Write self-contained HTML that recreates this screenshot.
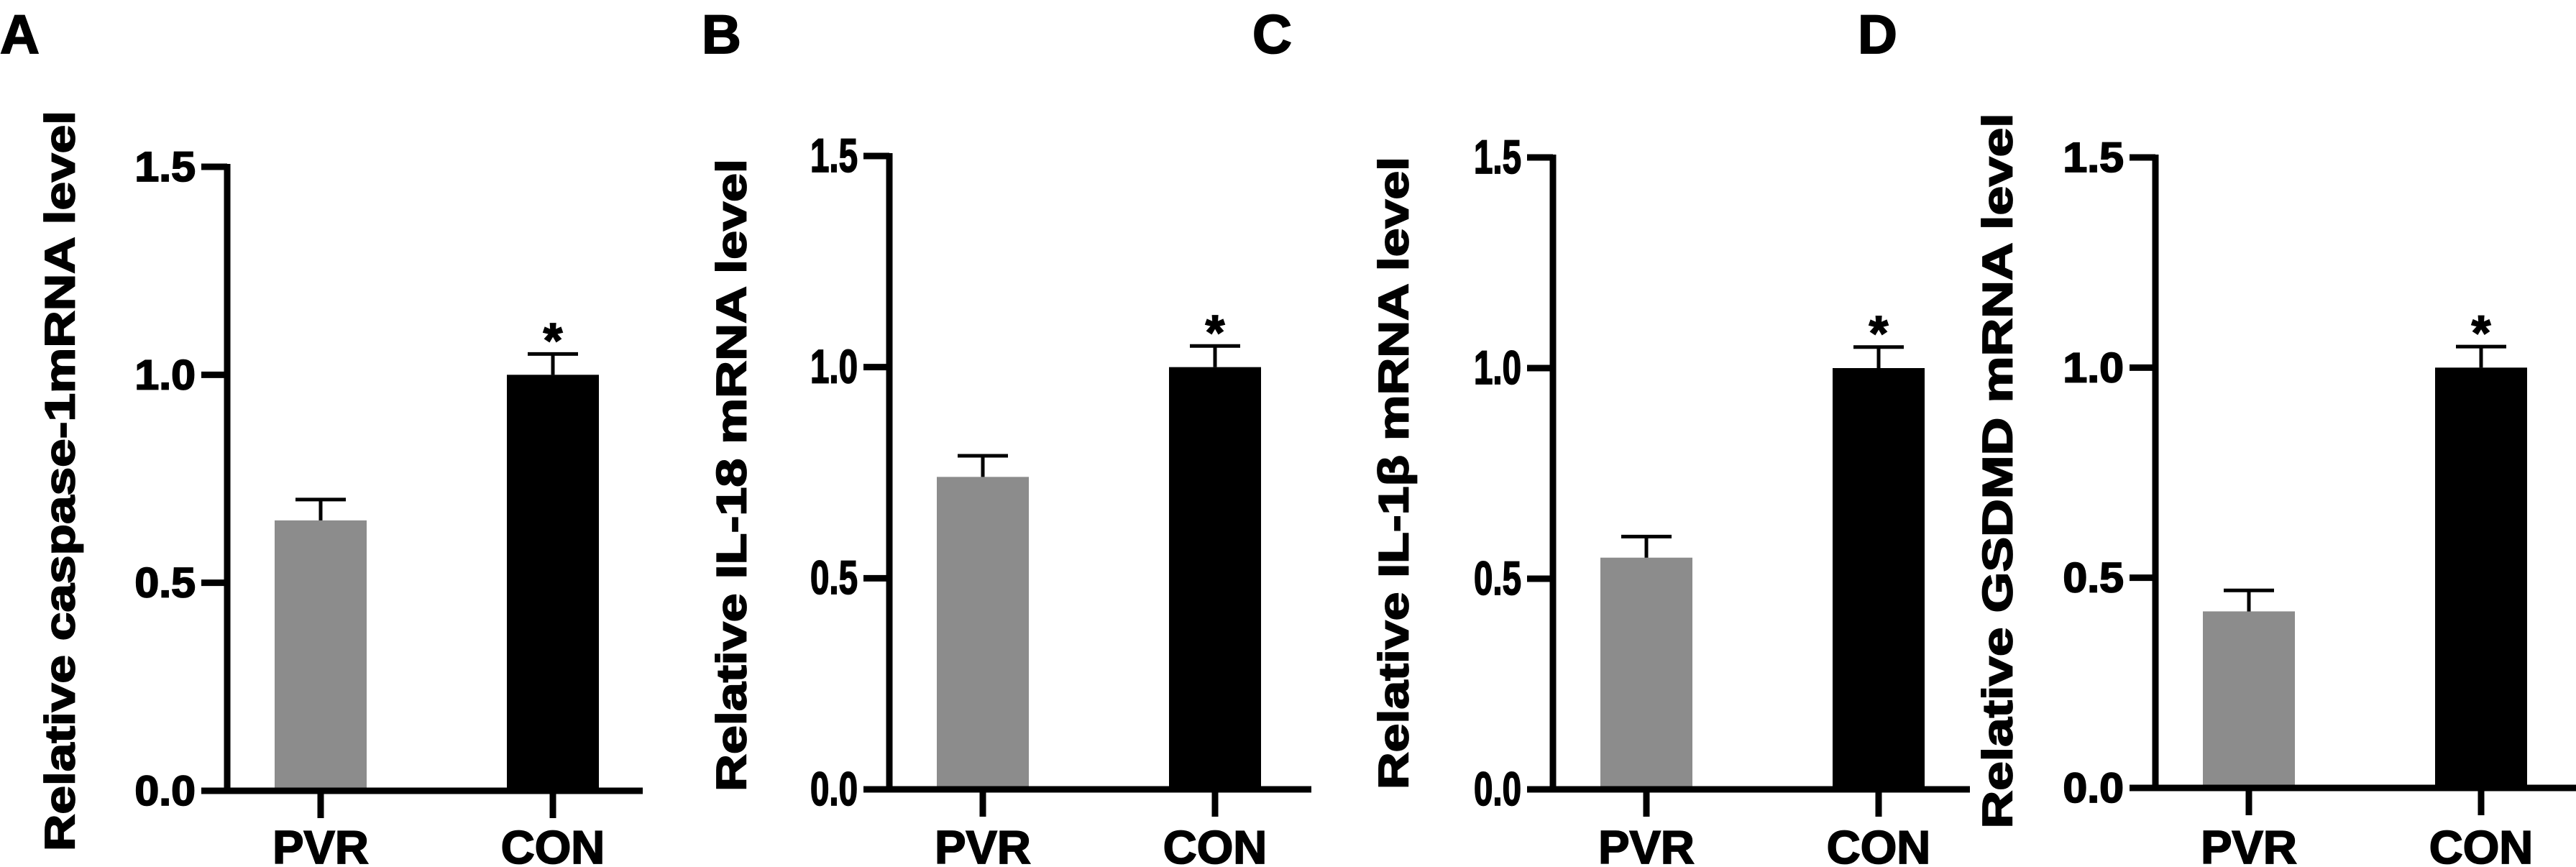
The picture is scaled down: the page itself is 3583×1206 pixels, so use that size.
<!DOCTYPE html>
<html><head><meta charset="utf-8"><style>
html,body{margin:0;padding:0;background:#fff;}
svg{display:block;}
text{font-family:"Liberation Sans",Arial,sans-serif;font-weight:bold;fill:#000;stroke:#000;stroke-width:1.8;}
</style></head><body>
<svg id="fig" width="3583" height="1206" viewBox="0 0 3583 1206" xmlns="http://www.w3.org/2000/svg"></svg>
<script>
const categories = ["PVR", "CON"];
const panelLetters = ["A", "B", "C", "D"];
const yTitles = ["Relative caspase-1mRNA  level", "Relative IL-18 mRNA  level", "Relative IL-1\u03b2 mRNA  level", "Relative GSDMD mRNA  level"];
const pvrValues = [0.65, 0.74, 0.55, 0.42];
const pvrErrors = [0.05, 0.05, 0.05, 0.05];
const conValues = [1.0, 1.0, 1.0, 1.0];
const conErrors = [0.05, 0.05, 0.05, 0.05];
const yTicks = [0, 0.5, 1.0, 1.5];
const yTickLabels = ["0.0", "0.5", "1.0", "1.5"];
const yMax = 1.5;

// layout (pixels) per panel
const layout = [
  {ax:316, y0:1100, y15:232, xEnd:894, letterX:0, titleX:84, titleY:669, titleLen:1030, narrow:false},
  {ax:1237, y0:1098, y15:217, xEnd:1824, letterX:976, titleX:1018, titleY:661, titleLen:880, narrow:true},
  {ax:2160, y0:1098, y15:219, xEnd:2740, letterX:1742, titleX:1939, titleY:658, titleLen:880, narrow:true},
  {ax:2998, y0:1096, y15:219, xEnd:3583, letterX:2584, titleX:2779, titleY:655, titleLen:995, narrow:false}
];
const barOffsets = [130, 453];
const barW = 128;
const NS = "http://www.w3.org/2000/svg";
const svg = document.getElementById("fig");
function mk(tag, attrs, parent){const e=document.createElementNS(NS,tag);for(const k in attrs)e.setAttribute(k,attrs[k]);(parent||svg).appendChild(e);return e;}

layout.forEach((L, i) => {
  const g = mk("g", {});
  
  
  const yScale = v => L.y0 - (v / yMax) * (L.y0 - L.y15);

  const letter = mk("text", {x:L.letterX, y:74, "font-size":76}, g);
  letter.textContent = panelLetters[i];
  
  

  const title = mk("text", {x:0, y:0, "font-size":58, "text-anchor":"middle", "dominant-baseline":"central", textLength:L.titleLen, lengthAdjust:"spacingAndGlyphs", transform:`translate(${L.titleX},${L.titleY}) rotate(-90)`}, g);
  title.textContent = yTitles[i];
  
  

  const vals = [pvrValues[i], conValues[i]];
  const errs = [pvrErrors[i], conErrors[i]];
  const colors = ["#8c8c8c", "#000"];
  vals.forEach((v, j) => {
    const cx = L.ax + barOffsets[j];
    const top = yScale(v);
    const bar = mk("rect", {x:cx - barW/2, y:top, width:barW, height:L.y0 - top, fill:colors[j]}, g);
    
    
    const et = yScale(v + errs[j]);
    const eb = mk("path", {d:`M${cx} ${top} V${et} M${cx-35} ${et} H${cx+35}`, stroke:"#000", "stroke-width":5, fill:"none"}, g);
    
    
    if (j === 1) {
      const st = mk("text", {x:cx, y:et + 4, "font-size":68, "text-anchor":"middle"}, g);
      st.textContent = "*";
      
      
    }
    const ct = mk("path", {d:`M${cx} ${L.y0} V${L.y0+38}`, stroke:"#000", "stroke-width":9}, g);
    
    
    const cl = mk("text", {x:cx, y:1201, "font-size":65, "text-anchor":"middle"}, g);
    cl.textContent = categories[j];
    
    
  });

  const ya = mk("path", {d:`M${L.ax} ${L.y15-4} V${L.y0}`, stroke:"#000", "stroke-width":9, fill:"none"}, g);
  
  
  const xa = mk("path", {d:`M${L.ax-36} ${L.y0} H${L.xEnd}`, stroke:"#000", "stroke-width":9, fill:"none"}, g);
  
  

  yTicks.forEach((t, k) => {
    const y = yScale(t);
    const tk = mk("path", {d:`M${L.ax-36} ${y} H${L.ax}`, stroke:"#000", "stroke-width":9}, g);
    
    
    const tx = L.ax - 44;
    const lab = mk("text", {x:0, y:0, "font-size":L.narrow?66:58, "text-anchor":"end", "dominant-baseline":"central",
      "stroke-width":L.narrow?1.5:3,
      transform:`translate(${tx},${y}) scale(${L.narrow?0.72:1.05},1)`}, g);
    lab.textContent = yTickLabels[k];
    
    
  });
});
</script>
</body></html>
